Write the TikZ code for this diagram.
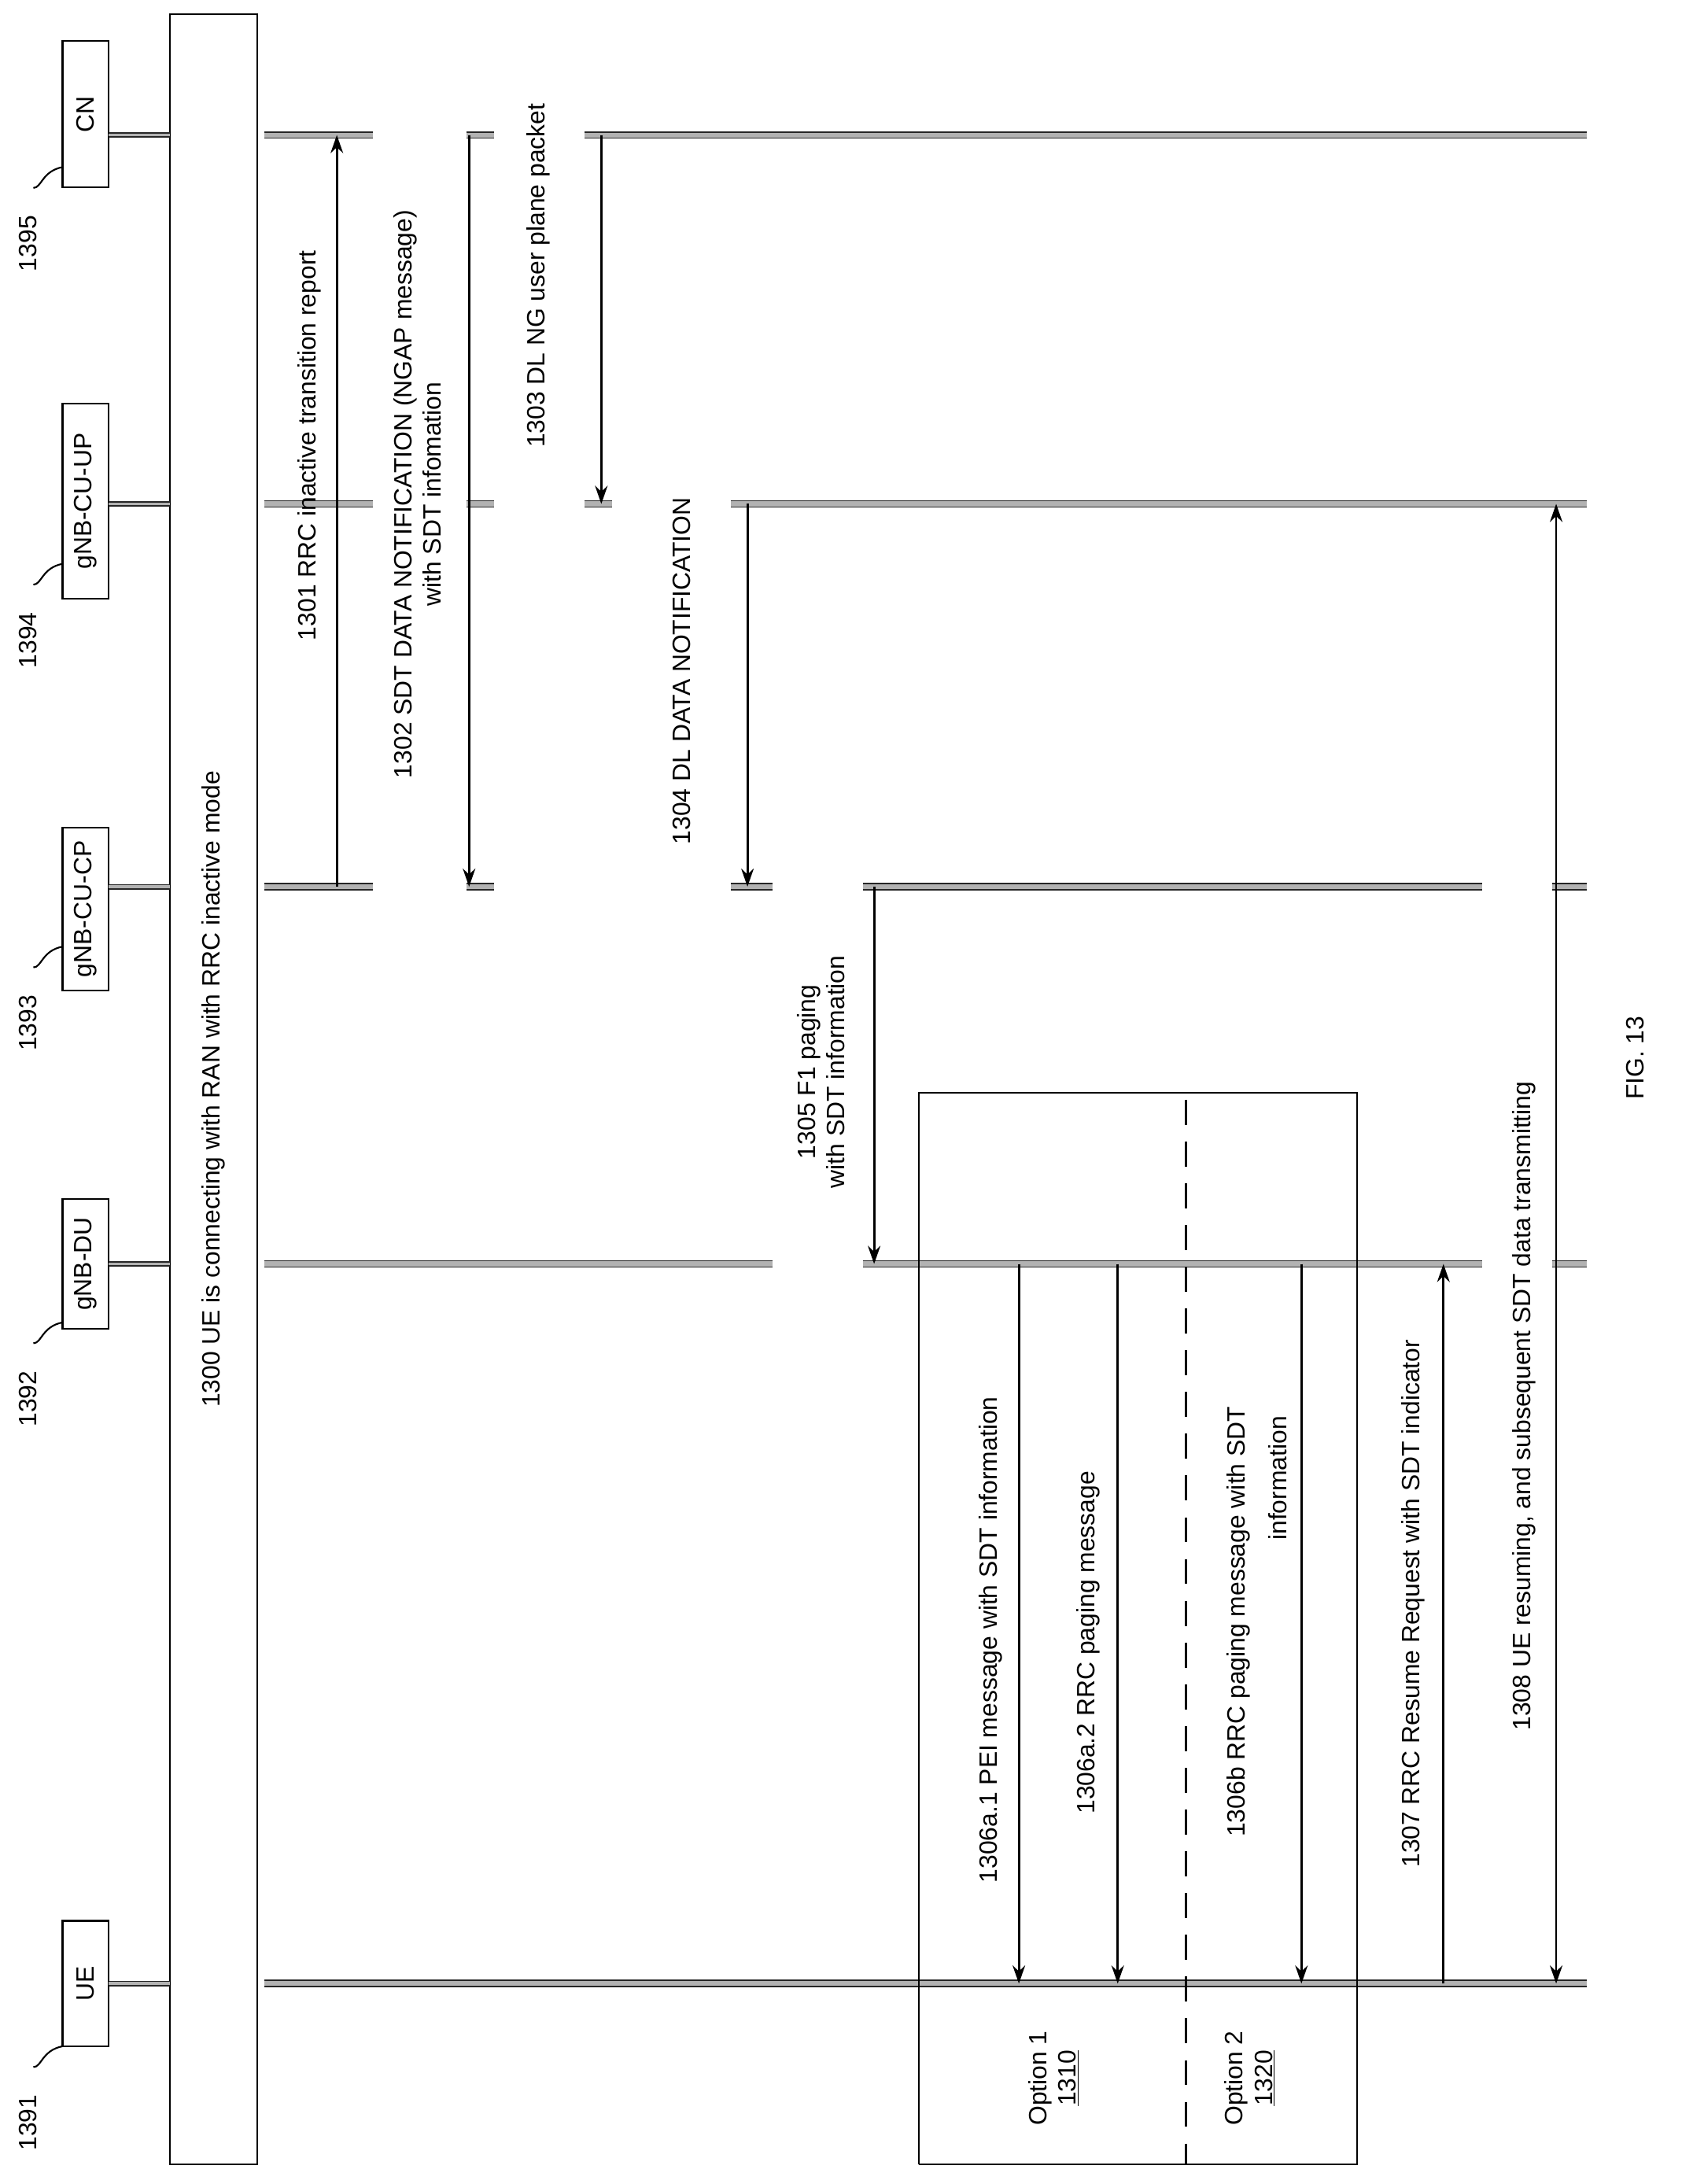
\documentclass[tikz,border=0pt]{standalone}
\usepackage{fontspec}
\setmainfont{Liberation Sans}
\usetikzlibrary{arrows.meta}
\begin{document}
\begin{tikzpicture}[x=1pt,y=-1pt,
 life/.style={draw=black!85,line width=1pt,double=gray!60,double distance=3.5pt},
 msg/.style={-{Stealth[length=13pt,width=9pt]},line width=1.6pt},
 lab/.style={rotate=90,font=\fontsize{18}{21}\selectfont,align=center,inner sep=0pt},
 box/.style={draw,line width=1.3pt}]
\useasboundingbox (0,0) rectangle (1216,1569);
% header boxes
\node[box,minimum width=33,minimum height=90] (ue) at (61.5,1425) {};
\node[box,minimum width=33,minimum height=93] (du) at (61.5,908) {};
\node[box,minimum width=33,minimum height=117] (cp) at (61.5,653) {};
\node[box,minimum width=33,minimum height=140] (up) at (61.5,360) {};
\node[box,minimum width=33,minimum height=105] (cn) at (61.5,82) {};
\node[lab] at (ue) {UE};
\node[lab] at (du) {gNB-DU};
\node[lab] at (cp) {gNB-CU-CP};
\node[lab] at (up) {gNB-CU-UP};
\node[lab] at (cn) {CN};
\foreach \n/\y/\t in {a/1525/1391,b/1005/1392,c/735/1393,d/460/1394,e/175/1395}{
 \node[lab] (l\n) at (20,\y) {\t};
 \draw[line width=1.2pt] (24,\y-40) .. controls (30,\y-40) and (30,\y-52) .. (45,\y-55);
}
% 1300 box
\node[box,minimum width=63,minimum height=1545] (b1300) at (153.5,782.5) {};
\node[lab] at (b1300) {1300 UE is connecting with RAN with RRC inactive mode};
% lifelines stubs
\foreach \y in {1425,908,637,362,97}{\draw[life,double distance=2pt] (78,\y) -- (122,\y);}
% lifelines
\draw[life] (190,97) -- (268,97); \draw[life] (335,97) -- (355,97); \draw[life] (420,97) -- (1140,97);
\draw[life] (190,362) -- (268,362); \draw[life] (335,362) -- (355,362); \draw[life] (420,362) -- (440,362); \draw[life] (525,362) -- (1140,362);
\draw[life] (190,637) -- (268,637); \draw[life] (335,637) -- (355,637); \draw[life] (525,637) -- (555,637); \draw[life] (620,637) -- (1065,637); \draw[life] (1115,637) -- (1140,637);
\draw[life] (190,908) -- (555,908); \draw[life] (620,908) -- (1065,908); \draw[life] (1115,908) -- (1140,908);
\draw[life] (190,1425) -- (1140,1425);
% messages
\coordinate (m1a) at (242,637); \coordinate (m1b) at (242,97);
\draw[msg] (m1a) -- (m1b);
\node[lab] at (222,320) {1301 RRC inactive transition report};
\coordinate (m2a) at (337,97); \coordinate (m2b) at (337,637);
\draw[msg] (m2a) -- (m2b);
\node[lab] at (300,355) {1302 SDT DATA NOTIFICATION (NGAP message)\\with SDT infomation};
\coordinate (m3a) at (432,97); \coordinate (m3b) at (432,362);
\draw[msg] (m3a) -- (m3b);
\node[lab] at (387,198) {1303 DL NG user plane packet};
\coordinate (m4a) at (537,362); \coordinate (m4b) at (537,637);
\draw[msg] (m4a) -- (m4b);
\node[lab] at (490,482) {1304 DL DATA NOTIFICATION};
\coordinate (m5a) at (628,637); \coordinate (m5b) at (628,908);
\draw[msg] (m5a) -- (m5b);
\node[lab] at (590,770) {1305 F1 paging\\with SDT information};
% options box
\draw[line width=1.3pt] (660,1555) -- (660,785) -- (975,785) -- (975,1555) -- (660,1555);
\draw[line width=1.4pt,dash pattern=on 18pt off 12pt] (852,790) -- (852,1555);
\node[lab] at (757,1493) {Option 1\\\underline{1310}};
\node[lab] at (898,1493) {Option 2\\\underline{1320}};
\coordinate (m6a) at (732,908); \coordinate (m6b) at (732,1425);
\draw[msg] (m6a) -- (m6b);
\node[lab] at (712,1178) {1306a.1 PEI message with SDT information};
\coordinate (m7a) at (803,908); \coordinate (m7b) at (803,1425);
\draw[msg] (m7a) -- (m7b);
\node[lab] at (782,1180) {1306a.2 RRC paging message};
\coordinate (m8a) at (935,908); \coordinate (m8b) at (935,1425);
\draw[msg] (m8a) -- (m8b);
\node[lab] at (890,1165) {1306b RRC paging message with SDT};
\node[lab] at (918,1062) {information};
\coordinate (m9a) at (1037,1425); \coordinate (m9b) at (1037,908);
\draw[msg] (m9a) -- (m9b);
\node[lab] at (1015,1152) {1307 RRC Resume Request with SDT indicator};
\coordinate (m10a) at (1118,1425); \coordinate (m10b) at (1118,362);
\draw[msg,{Stealth[length=13pt,width=9pt]}-{Stealth[length=13pt,width=9pt]}] (m10a) -- (m10b);
\node[lab] at (1095,1010) {1308 UE resuming, and subsequent SDT data transmitting};
\node[lab] at (1175,760) {FIG. 13};
\end{tikzpicture}
\end{document}
